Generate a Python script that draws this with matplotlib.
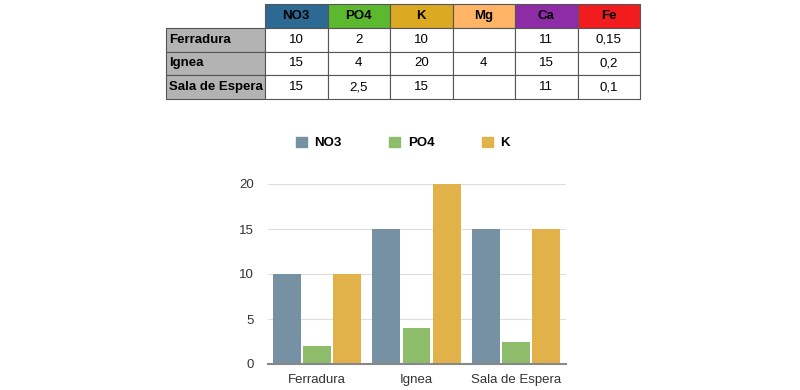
import matplotlib.pyplot as plt
from matplotlib.patches import Patch

plt.rcParams['font.family'] = ['Liberation Sans', 'DejaVu Sans']

samples = ['Ferradura', 'Ignea', 'Sala de Espera']
nutrients = ['NO3', 'PO4', 'K', 'Mg', 'Ca', 'Fe']
no3 = [10, 15, 15]
po4 = [2, 4, 2.5]
k = [10, 20, 15]
mg = [None, 4, None]
ca = [11, 15, 11]
fe = [0.15, 0.2, 0.1]

header_colors = ['#2d6a93', '#5cb82e', '#dcaa22', '#ffb466', '#8e2ca8', '#f21c1e']
bar_colors = ['#7691a4', '#8dbd6b', '#e2b24a']


def fmt(v):
    # comma decimals like the original sheet
    if v is None:
        return ''
    return ('%g' % v).replace('.', ',')


fig = plt.figure(figsize=(8, 3.9), dpi=100)

# ---- table on top ----
tax = fig.add_axes([166 / 800, 1 - 99 / 390, 474 / 800, 95 / 390])
tax.axis('off')
cols = [no3, po4, k, mg, ca, fe]
cell_text = [[''] + nutrients]
for i, s in enumerate(samples):
    cell_text.append([s] + [fmt(c[i]) for c in cols])
widths = [99] + [62.5] * 6
tbl = tax.table(cellText=cell_text, colWidths=widths, bbox=[0, 0, 1, 1], cellLoc='center')
tbl.auto_set_font_size(False)
for (r, c), cell in tbl.get_celld().items():
    cell.set_edgecolor('#555555')
    cell.set_linewidth(0.8)
    cell.get_text().set_fontsize(9.5)
    if r == 0 and c == 0:
        cell.set_linewidth(0)
        cell.set_facecolor('none')
    elif r == 0:
        cell.set_facecolor(header_colors[c - 1])
        cell.get_text().set_fontweight('bold')
    elif c == 0:
        cell.set_facecolor('#b3b3b3')
        cell.get_text().set_fontweight('bold')
        cell.get_text().set_ha('left')
        cell._loc = 'left'
        cell.PAD = 0.03

# ---- bar chart ----
ax = fig.add_axes([268 / 800, 1 - 364 / 390, 298 / 800, 180 / 390])
x = range(len(samples))
step = 0.302
w = 0.28
for j, (vals, name) in enumerate(zip([no3, po4, k], nutrients[:3])):
    ax.bar([i + (j - 1) * step for i in x], vals, w, color=bar_colors[j], label=name, zorder=3)

ax.set_ylim(0, 20)
ax.set_xlim(-0.49, 2.5)
ax.set_yticks([0, 5, 10, 15, 20])
ax.set_xticks(list(x))
ax.set_xticklabels(samples)
ax.tick_params(length=0, labelsize=9.5, colors='#333333')
ax.tick_params(axis='y', pad=10)
ax.tick_params(axis='x', pad=7)
ax.grid(axis='y', color='#dddddd', lw=0.8, zorder=0)
for sp in ['top', 'right', 'left']:
    ax.spines[sp].set_visible(False)
ax.spines['bottom'].set_color('#888888')
ax.spines['bottom'].set_linewidth(1.5)
ax.spines['bottom'].set_zorder(4)

handles = [Patch(color=bar_colors[j], label=nutrients[j]) for j in range(3)]
fig.legend(handles=handles, loc='center', bbox_to_anchor=(403 / 800, 1 - 143 / 390), ncol=3,
           frameon=False, handlelength=0.8, handleheight=0.8, handletextpad=0.6,
           columnspacing=3.6, prop={'weight': 'bold', 'size': 9.5})

fig.savefig('out.png')
